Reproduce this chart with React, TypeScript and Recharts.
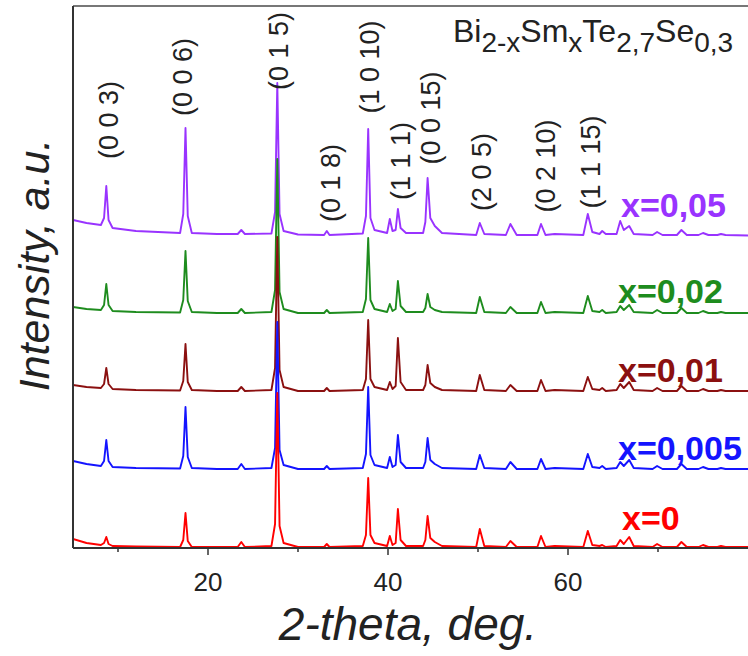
import { LineChart, Line, XAxis, YAxis, ReferenceLine } from 'recharts';

// 2-theta grid (deg) shared by every pattern
const twoTheta = [
  5, 6.5, 8.1, 8.45, 8.7, 8.95, 9.4, 12, 16.9, 17.25,
  17.5, 17.75, 18.2, 21, 23.3, 23.7, 24.1, 27.05, 27.45, 27.7,
  27.95, 28.4, 30, 32.9, 33.2, 33.5, 37.2, 37.55, 37.8, 38.05,
  38.5, 39.9, 40.2, 40.5, 40.85, 41.1, 41.4, 42, 43.9, 44.15,
  44.4, 44.7, 45.2, 46, 49.8, 50.2, 50.7, 53.1, 53.6, 54.3,
  56.6, 57, 57.5, 58.5, 61.7, 62.2, 62.7, 63.5, 63.8, 64.2,
  65.4, 65.8, 66.2, 66.8, 67.3, 69.4, 69.9, 70.5, 72.1, 72.6,
  73.2, 74.5, 75, 75.6, 76.6, 77, 77.5, 80,
];

// intensities (a.u.), one list per composition
const x0 = [
  9, 5, 3, 5, 11, 4, 2, 1.5, 1, 8,
  35, 7, 1, 1, 1, 6, 1, 2, 24, 155,
  22, 5, 1, 1, 4, 1, 2, 13, 70, 13,
  5, 2, 12, 3, 5, 39, 8, 2, 2, 8,
  32, 10, 6, 2, 1, 19, 2, 1, 7, 1,
  1, 12, 1, 2, 1, 17, 3, 2, 3, 1,
  2, 8, 4, 11, 2, 1, 4, 1, 1, 6,
  1, 1, 3, 1, 1, 2, 1, 1,
];
const x0005 = [
  9, 6, 4, 9, 30, 9, 3, 2, 1.5, 14,
  63, 13, 2, 1, 1, 6, 1, 2, 22, 148,
  20, 5, 1, 1, 4, 1, 2, 16, 83, 15,
  5, 2, 13, 3, 5, 35, 8, 2, 2, 8,
  32, 10, 6, 2, 1, 15, 2, 1, 8, 1,
  1, 11, 1, 2, 1, 16, 3, 2, 4, 1,
  2, 8, 4, 10, 2, 1, 4, 1, 1, 6,
  1, 1, 3, 1, 1, 2, 1, 1,
];
const x001 = [
  7, 5, 4, 8, 24, 8, 3, 2, 1.5, 11,
  48, 10, 2, 1, 1, 5, 1, 2, 24, 155,
  22, 5, 1, 1, 4, 1, 2, 13, 72, 13,
  5, 2, 10, 3, 6, 54, 10, 2, 2, 7,
  27, 9, 5, 2, 1, 17, 2, 1, 7, 1,
  1, 12, 1, 2, 1, 15, 3, 2, 4, 1,
  2, 8, 4, 10, 2, 1, 4, 1, 1, 6,
  1, 1, 3, 1, 1, 2, 1, 1,
];
const x002 = [
  7, 5, 4, 9, 30, 9, 3, 2, 1.5, 14,
  63, 13, 2, 1, 1, 5, 1, 2, 24, 155,
  22, 5, 1, 1, 4, 1, 2, 15, 76, 14,
  5, 2, 10, 3, 5, 33, 8, 2, 2, 6,
  20, 7, 4, 2, 1, 17, 2, 1, 7, 1,
  1, 12, 1, 2, 1, 18, 3, 2, 4, 1,
  2, 8, 4, 9, 2, 1, 4, 1, 1, 6,
  1, 1, 3, 1, 1, 2, 1, 1,
];
const x005 = [
  16, 13, 11, 18, 50, 16, 8, 5, 3, 22,
  108, 20, 3, 2, 2, 6, 2, 2.5, 24, 153,
  22, 5, 1.5, 1, 5, 1, 2.5, 20, 107, 18,
  6, 3, 17, 5, 6, 27, 8, 3, 3, 14,
  58, 18, 10, 3, 1, 13, 2, 1, 12, 1,
  1, 12, 1, 2, 1, 22, 4, 2, 5, 2,
  2, 15, 6, 10, 2, 1, 4, 1, 1, 6,
  1, 1, 3, 1, 1, 2, 1, 0.5,
];

// vertical shift of each stacked pattern
const offsets = [0, 78, 156, 234, 312];
const seriesNames = ['x=0', 'x=0,005', 'x=0,01', 'x=0,02', 'x=0,05'];
const seriesValues = [x0, x0005, x001, x002, x005];
const colors = ['#ff0000', '#1414ff', '#8b1010', '#1e8c1e', '#9933ff'];

const peakLabels = ['(0 0 3)', '(0 0 6)', '(0 1 5)', '(0 1 8)', '(1 0 10)', '(1 1 1)', '(0 0 15)', '(2 0 5)', '(0 2 10)', '(1 1 15)'];
const xTicks = [10, 20, 30, 40, 50, 60, 70];

const data = twoTheta.map((t, i) => {
  const row: any = { t };
  seriesValues.forEach((s, k) => {
    row['s' + k] = s[i] + offsets[k];
  });
  return row;
});

const FONT = '"Liberation Sans", Arial, sans-serif';

// label placement in px
const peakPos = [
  [109, 120], [183, 77], [279, 51], [331, 183], [370, 67],
  [401, 161], [431, 118], [482, 172], [546, 166], [591, 162],
];
const namePos = [
  [622, 530], [618, 460], [618, 382], [618, 303], [621, 217],
];

const Tick = ({ x, y, payload }: any) => {
  const major = payload.value % 20 === 0;
  return (
    <g>
      <line x1={x} x2={x} y1={y} y2={y + (major ? 7 : 4)} stroke="#333" strokeWidth={1.5} />
      {major && (
        <text x={x} y={y + 43} textAnchor="middle" fontSize={26} fontFamily={FONT} fill="#222">
          {payload.value}
        </text>
      )}
    </g>
  );
};

export default function App() {
  return (
    <div style={{ position: 'absolute', left: 0, top: 0, width: 748, height: 656, overflow: 'hidden', background: '#fff' }}>
      <LineChart width={748} height={656} data={data} margin={{ top: 6, right: 0, bottom: 0, left: 63 }}>
        <XAxis
          dataKey="t"
          type="number"
          domain={[5, 80]}
          ticks={xTicks}
          height={108}
          tickLine={false}
          tickSize={0}
          tickMargin={0}
          tick={<Tick />}
          axisLine={{ stroke: '#333', strokeWidth: 2 }}
          allowDataOverflow
        />
        <YAxis
          type="number"
          domain={[0, 542]}
          width={10}
          tick={false}
          tickLine={false}
          axisLine={{ stroke: '#333', strokeWidth: 2 }}
          allowDataOverflow
        />
        <ReferenceLine y={542} stroke="#777" strokeWidth={2} />
        {[4, 3, 2, 1, 0].map((k) => (
          <Line
            key={k}
            type="linear"
            dataKey={'s' + k}
            name={seriesNames[k]}
            stroke={colors[k]}
            strokeWidth={1.9}
            strokeLinejoin="round"
            dot={false}
            isAnimationActive={false}
          />
        ))}
      </LineChart>
      <svg width={748} height={656} style={{ position: 'absolute', left: 0, top: 0, pointerEvents: 'none' }}>
        {peakLabels.map((p, i) => (
          <text
            key={p}
            x={peakPos[i][0]}
            y={peakPos[i][1]}
            transform={`rotate(-90 ${peakPos[i][0]} ${peakPos[i][1]})`}
            textAnchor="middle"
            dominantBaseline="central"
            fontSize={27}
            fontFamily={FONT}
            fill="#222"
          >
            {p}
          </text>
        ))}
        {seriesNames.map((n, k) => (
          <text key={n} x={namePos[k][0]} y={namePos[k][1]} fontSize={34} fontWeight="bold" fontFamily={FONT} fill={colors[k]}>
            {n}
          </text>
        ))}
        <text x={453} y={42} fontSize={32} fontFamily={FONT} fill="#222">
          Bi<tspan fontSize={28} dy={10}>2-x</tspan>
          <tspan dy={-10}>Sm</tspan>
          <tspan fontSize={28} dy={10}>x</tspan>
          <tspan dy={-10}>Te</tspan>
          <tspan fontSize={28} dy={10}>2,7</tspan>
          <tspan dy={-10}>Se</tspan>
          <tspan fontSize={28} dy={10}>0,3</tspan>
        </text>
        <text x={408} y={640} textAnchor="middle" fontSize={46} fontStyle="italic" fontFamily={FONT} fill="#222">
          2-theta, deg.
        </text>
        <text
          x={49}
          y={265}
          transform="rotate(-90 49 265)"
          textAnchor="middle"
          fontSize={43}
          fontStyle="italic"
          fontFamily={FONT}
          fill="#222"
        >
          Intensity, a.u.
        </text>
      </svg>
    </div>
  );
}
